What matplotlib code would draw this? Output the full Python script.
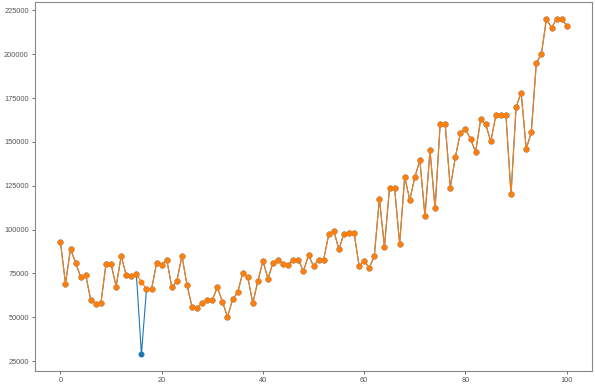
import numpy as np
import matplotlib
matplotlib.use("Agg")
import matplotlib.pyplot as plt

# ---- data (index 0..100) ----
cleaned = [
    93000, 69200, 89000, 81000, 73000, 74000, 59700, 57500, 58000, 80400,
    80400, 67500, 85000, 74000, 73500, 74500, 70200, 66000, 66000, 80800,
    79900, 82900, 67100, 70600, 85100, 68300, 55900, 55000, 58200, 59900,
    59900, 67000, 58900, 50100, 60100, 64100, 75100, 73000, 58000, 70600,
    82100, 72000, 81200, 82700, 80600, 80000, 82700, 82700, 76200, 85400,
    79100, 82900, 82900, 97300, 99200, 88800, 97700, 98100, 98100, 79100,
    82100, 78100, 85000, 117600, 90100, 123900, 123900, 91800, 130000, 116900,
    130000, 139500, 107600, 145200, 112100, 160100, 160100, 123900, 141300, 155200,
    157100, 151800, 144200, 162800, 160100, 150300, 165100, 165100, 165100, 120100,
    169800, 178200, 146100, 155400, 195000, 200200, 220300, 215000, 220300, 220300,
    216100,
]
outlier_idx = 16
outlier_val = 28800

raw = list(cleaned)
raw[outlier_idx] = outlier_val
x = np.arange(len(cleaned))

# ---- plot ----
plt.rcParams['font.family'] = ['Liberation Sans', 'DejaVu Sans']
fig = plt.figure(figsize=(5.95, 3.87), dpi=100)
ax = fig.add_axes([0.059, 0.041, 0.936, 0.954])

ax.plot(x, raw, marker='o', color='#1f77b4', lw=0.8, markersize=3.3)
ax.plot(x, cleaned, marker='o', color='#ff7f0e', lw=0.8, markersize=3.3)

ax.set_xticks([0, 20, 40, 60, 80, 100])
ax.set_yticks(np.arange(25000, 225001, 25000))
ax.tick_params(labelsize=5.3, colors='#555555', length=2.5, width=0.6, pad=2)
for sp in ax.spines.values():
    sp.set_color('#888888')
    sp.set_linewidth(0.8)

fig.savefig("out.png", dpi=100)
